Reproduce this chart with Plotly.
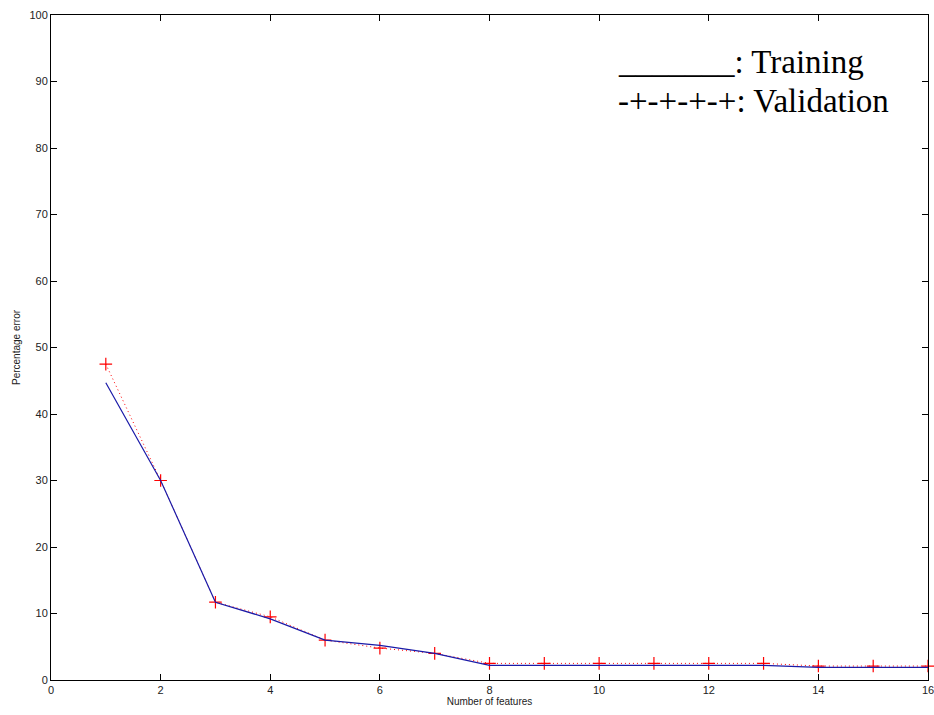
import plotly.graph_objects as go

features = list(range(1, 17))
training = [44.7, 30.0, 11.7, 9.2, 6.0, 5.2, 4.0, 2.2, 2.2, 2.2, 2.2, 2.2, 2.2, 1.9, 1.9, 1.9]
validation = [47.5, 30.0, 11.7, 9.5, 6.0, 4.8, 4.0, 2.5, 2.5, 2.5, 2.5, 2.5, 2.5, 2.1, 2.1, 2.1]
x_ticks = list(range(0, 17, 2))
y_ticks = list(range(0, 101, 10))

fig = go.Figure()
fig.add_trace(go.Scatter(x=features, y=validation, mode="lines+markers",
                         line=dict(color="#ff0000", width=1, dash="1px,3px"),
                         marker=dict(symbol="cross-thin", size=9,
                                     line=dict(color="#ff0000", width=1.2)),
                         cliponaxis=False, showlegend=False))
fig.add_trace(go.Scatter(x=features, y=training, mode="lines",
                         line=dict(color="#1a1aa8", width=1.2),
                         showlegend=False))

axis_common = dict(showline=True, linecolor="#000", linewidth=1, mirror="ticks",
                   ticks="inside", ticklen=6, tickcolor="#000", showgrid=False,
                   zeroline=False, automargin=False, ticklabeloverflow="allow",
                   tickfont=dict(family="Arial, Liberation Sans", size=11, color="#222"))
fig.update_xaxes(range=[0, 16], tickvals=x_ticks, **axis_common,
                 title=dict(text="Number of features", standoff=2,
                            font=dict(family="Arial, Liberation Sans", size=10, color="#222")))
fig.update_yaxes(range=[0, 100], tickvals=y_ticks, **axis_common,
                 title=dict(text="Percentage error", standoff=6,
                            font=dict(family="Arial, Liberation Sans", size=10, color="#222")))

fig.add_annotation(xref="paper", yref="paper", x=0.644, y=0.929, xanchor="left", yanchor="middle",
                   text="_______: Training", showarrow=False,
                   font=dict(family="Liberation Serif, Times New Roman", size=33, color="#000"))
fig.add_annotation(xref="paper", yref="paper", x=0.644, y=0.871, xanchor="left", yanchor="middle",
                   text="-+-+-+-+: Validation", showarrow=False,
                   font=dict(family="Liberation Serif, Times New Roman", size=33, color="#000"))

fig.update_layout(width=934, height=715, plot_bgcolor="white", paper_bgcolor="white",
                  margin=dict(l=51, r=6, t=15, b=35))
fig.write_html("out.html", config={"displayModeBar": False},
               post_script="document.body.style.margin='0';document.body.style.overflow='hidden';")
